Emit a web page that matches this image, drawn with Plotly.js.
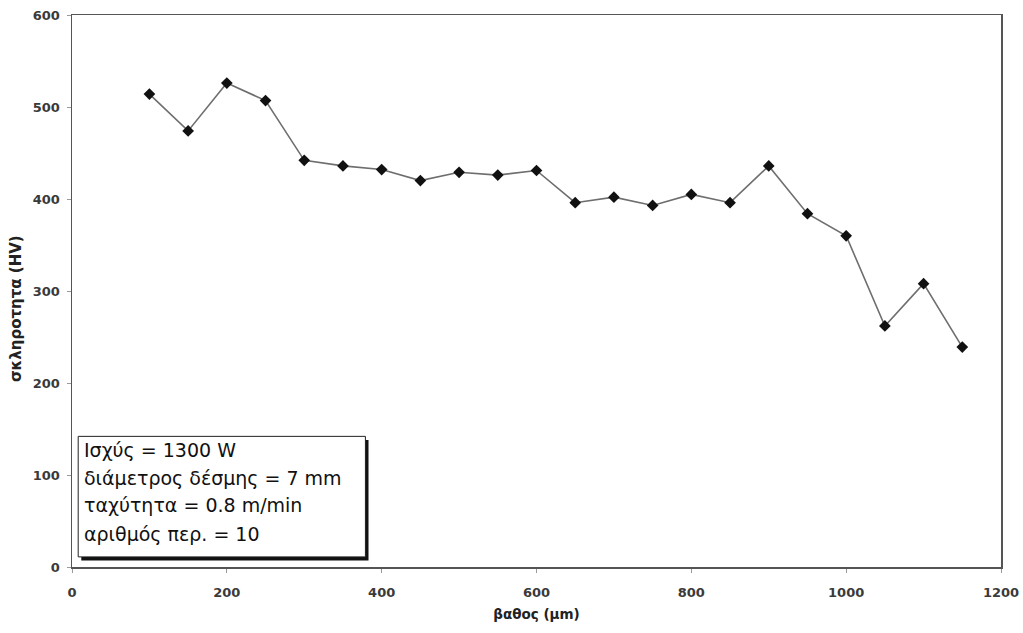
<!DOCTYPE html>
<html>
<head>
<meta charset="utf-8">
<script src="https://cdn.plot.ly/plotly-3.0.1.min.js"></script>
<style>
  html, body { margin: 0; padding: 0; background: #fff; }
  #chart { width: 1023px; height: 633px; }
</style>
</head>
<body>
<div id="chart"></div>
<script>
// Hardness profile versus depth
const depth = [100, 150, 200, 250, 300, 350, 400, 450, 500, 550, 600,
               650, 700, 750, 800, 850, 900, 950, 1000, 1050, 1100, 1150];
const hardness = [514, 474, 526, 507, 442, 436, 432, 420, 429, 426, 431,
                  396, 402, 393, 405, 396, 436, 384, 360, 262, 308, 239];

const xTicks = [0, 200, 400, 600, 800, 1000, 1200];
const yTicks = [0, 100, 200, 300, 400, 500, 600];

const infoLines = [
  "Ισχύς = 1300 W",
  "διάμετρος δέσμης = 7 mm",
  "ταχύτητα = 0.8 m/min",
  "αριθμός περ. = 10"
];
// vertical centre of each info line, in hardness units
const infoLineY = [127, 97, 67, 36];

const trace = {
  x: depth,
  y: hardness,
  type: "scatter",
  mode: "lines+markers",
  line: { color: "#6e6e6e", width: 1.6 },
  marker: { symbol: "diamond", size: 9, color: "#111" },
  hoverinfo: "x+y"
};

const FONT = "DejaVu Sans, Arial, sans-serif";
const tickFont = { family: FONT, size: 13, color: "#3a3a3a", weight: "bold" };

const annotations = infoLines.map((t, i) => ({
  xref: "x", yref: "y",
  x: 13, y: infoLineY[i],
  xanchor: "left", yanchor: "middle",
  align: "left",
  showarrow: false,
  text: t,
  font: { family: FONT, size: 19, color: "#111" }
}));

// y-axis title placed as a rotated annotation
annotations.push({
  xref: "paper", yref: "paper",
  x: -0.0603, y: 0.469,
  xanchor: "center", yanchor: "middle",
  textangle: -90,
  showarrow: false,
  text: "<b>σκληροτητα (HV)</b>",
  font: { family: FONT, size: 15, color: "#222" }
});

const layout = {
  width: 1023,
  height: 633,
  margin: { l: 72, r: 22, t: 15, b: 66 },
  paper_bgcolor: "#fff",
  plot_bgcolor: "#fff",
  showlegend: false,
  font: { family: FONT },
  xaxis: {
    range: [0, 1200],
    tickvals: xTicks,
    ticktext: xTicks.map(String),
    showgrid: false,
    zeroline: false,
    showline: true,
    mirror: true,
    linecolor: "#555",
    linewidth: 1.5,
    ticks: "outside",
    ticklen: 4,
    tickcolor: "#999",
    ticklabelstandoff: 9,
    tickfont: tickFont,
    title: { text: "<b>βαθος (μm)</b>", font: { family: FONT, size: 13.5, color: "#222" }, standoff: 10 }
  },
  yaxis: {
    range: [0, 600],
    tickvals: yTicks,
    ticktext: yTicks.map(String),
    showgrid: false,
    zeroline: false,
    showline: true,
    mirror: true,
    linecolor: "#555",
    linewidth: 1.5,
    ticks: "outside",
    ticklen: 4,
    tickcolor: "#999",
    ticklabelstandoff: 4,
    tickfont: tickFont
  },
  shapes: [
    // drop shadow of the info box
    { type: "rect", xref: "x", yref: "y", x0: 12, x1: 383, y0: 7, y1: 138,
      fillcolor: "#111", line: { width: 0 }, layer: "above" },
    { type: "rect", xref: "x", yref: "y", x0: 8, x1: 379, y0: 11, y1: 142,
      fillcolor: "#fff", line: { color: "#222", width: 1 }, layer: "above" }
  ],
  annotations: annotations
};

Plotly.newPlot("chart", [trace], layout, { displayModeBar: false, staticPlot: true });
</script>
</body>
</html>
